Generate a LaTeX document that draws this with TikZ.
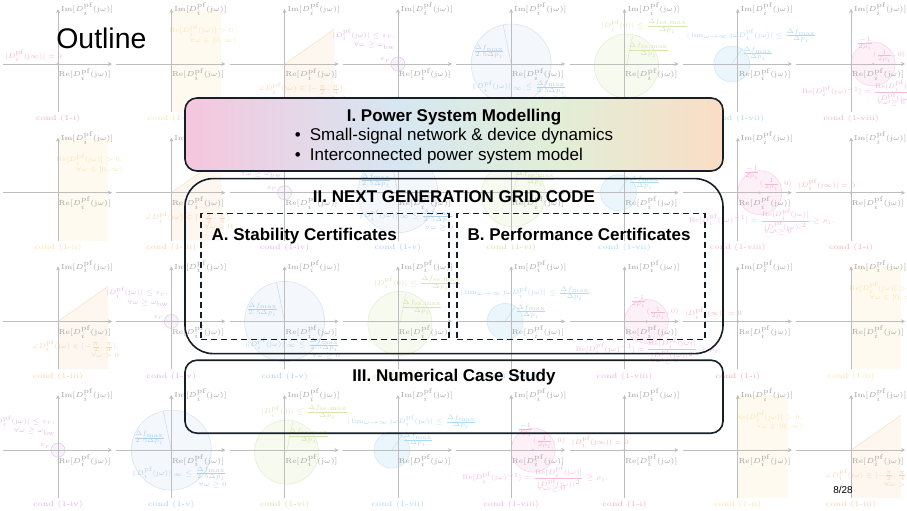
\documentclass[tikz,border=0pt]{standalone}
\usepackage{amsmath,amssymb}
\usepackage{fontspec}
\setsansfont{Liberation Sans}
\usepackage{tikz}
\usetikzlibrary{positioning,arrows.meta}
\usepackage{xcolor}

\definecolor{cred}{RGB}{232,72,85}
\definecolor{cyel}{RGB}{240,190,50}
\definecolor{corg}{RGB}{240,150,60}
\definecolor{cpur}{RGB}{170,90,190}
\definecolor{cblu}{RGB}{70,140,210}
\definecolor{cgrn}{RGB}{150,190,60}
\definecolor{ccya}{RGB}{60,170,225}
\definecolor{cpnk}{RGB}{230,80,160}
\definecolor{frameln}{RGB}{22,30,40}
\definecolor{modpink}{RGB}{245,198,222}
\definecolor{modblue}{RGB}{214,231,241}
\definecolor{modgreen}{RGB}{226,238,214}
\definecolor{modpeach}{RGB}{250,221,198}
\pgfdeclarehorizontalshading{modshade}{100bp}{color(0bp)=(modpink); color(25bp)=(modpink); color(45bp)=(modblue); color(60bp)=(modgreen); color(75bp)=(modpeach); color(100bp)=(modpeach)}

\newcommand{\Dpf}{D_i^{\mathrm{pf}}}
\newcommand{\jom}{\mathrm{j}\omega}
\newcommand{\bul}{\makebox[7.5pt][l]{\textbullet}}

\tikzset{
  axisln/.style={draw=black!26, line width=0.4pt, -{Stealth[length=2pt,width=2pt]}},
  axlbl/.style={font=\fontsize{5}{6}\selectfont, text=black!36, inner sep=0.5pt, scale=0.72, transform shape},
  plbl/.style={font=\fontsize{5}{6}\selectfont, text=#1!42, inner sep=0.5pt, align=right, scale=0.65, transform shape},
  condlbl/.style={font=\fontsize{5}{6}\selectfont, text=#1!45, inner sep=0.5pt, scale=0.75, transform shape},
  shapeln/.style={line width=0.3pt},
  cellaxes/.pic={
    \draw[axisln] (-55,0) -- (54,0);
    \draw[axisln] (0,48) -- (0,-55);
    \node[axlbl, anchor=west] (-im) at (2,-55) {$\mathrm{Im}[\Dpf(\jom)]$};
    \node[axlbl, anchor=north east] (-re) at (54,3) {$\mathrm{Re}[\Dpf(\jom)]$};
  },
  % cond (1-i)
  cond0/.pic={
    \fill[cred!40] (0,0) circle (0.8pt);
    \node[plbl=cred, anchor=east] (-txt) at (5,-8) {$|\Dpf(\mathrm{j}\infty)|=0$};
    \node[condlbl=cred] (-cond) at (0,55) {cond (1-i)};
  },
  % cond (1-ii)
  cond1/.pic={
    \fill[cyel!8] (0,-55) rectangle (50,48);
    \node[plbl=cyel, anchor=north east] (-txt) at (66,-40) {$\mathrm{Re}[\Dpf(\jom)]>0,$\\$\forall\omega\in[0,\infty)$};
    \node[condlbl=cyel] (-cond) at (0,55) {cond (1-ii)};
  },
  % cond (1-iii)
  cond2/.pic={
    \fill[corg!8] (0,0) -- (50,-35) -- (50,48) -- (0,48) -- cycle;
    \draw[corg!28, shapeln] (0,0) -- (50,-35);
    \node[plbl=corg, anchor=north east] (-txt) at (62,18) {$\angle\Dpf(\jom)\in[-\frac{\pi}{2},\frac{\pi}{4}],$\\$\forall\omega>0$};
    \node[condlbl=corg] (-cond) at (0,55) {cond (1-iii)};
  },
  % cond (1-iv)
  cond3/.pic={
    \filldraw[fill=cpur!8, draw=cpur!30, shapeln] (0,0) circle (3.5pt);
    \draw[cpur!30, shapeln] (-9,0) -- (9,0) (0,-9) -- (0,9);
    \node[plbl=cpur, anchor=east] (-eps) at (-7,-4) {$\varepsilon_r$};
    \node[plbl=cpur, anchor=south east] (-txt) at (-2,-14) {$|\Dpf(\jom)|\le\varepsilon_r,$\\$\forall\omega\ge\omega_{\mathrm{bw}}$};
    \node[condlbl=cpur] (-cond) at (0,55) {cond (1-iv)};
  },
  % cond (1-v)
  cond4/.pic={
    \filldraw[fill=cblu!6, draw=cblu!22, shapeln] (0,0) circle (20pt);
    \draw[cblu!28, shapeln] (0,0) -- (-8,-39);
    \node[plbl=cblu] (-rad) at (-22,-12) {$\frac{\Delta f_{\max}}{2.5\Delta p_i}$};
    \node[plbl=cblu, anchor=north] (-txt) at (8,16) {$\|\Dpf(\jom)\|_\infty\le\frac{\Delta f_{\max}}{2.5\Delta p_i}$\\$\forall\omega\ge0$};
    \node[condlbl=cblu] (-cond) at (0,55) {cond (1-v)};
  },
  % cond (1-vi)
  cond5/.pic={
    \filldraw[fill=cgrn!8, draw=cgrn!24, shapeln] (2,2) circle (16pt);
    \draw[cgrn!28, shapeln] (2,2) -- (8,-28);
    \node[plbl=cgrn] (-rad) at (24,-14) {$\frac{\Delta f_{\mathrm{ss,max}}}{\Delta p_i}$};
    \node[plbl=cgrn] (-txt) at (20,-38) {$|\Dpf(0)|\le\frac{\Delta f_{\mathrm{ss,max}}}{\Delta p_i}$};
    \node[condlbl=cgrn] (-cond) at (0,55) {cond (1-vi)};
  },
  % cond (1-vii)
  cond6/.pic={
    \filldraw[fill=ccya!10, draw=ccya!24, shapeln] (-6,0) circle (9pt);
    \draw[ccya!28, shapeln] (-6,0) -- (4,-15);
    \node[plbl=ccya] (-rad) at (20,-10) {$\frac{\Delta f_{\max}}{\Delta p_i}$};
    \node[plbl=ccya] (-txt) at (14,-28) {$|\lim_{\omega\to\infty}\mathrm{j}\omega\Dpf(\jom)|\le\frac{\Delta f_{\max}}{\Delta p_i}$};
    \node[condlbl=ccya] (-cond) at (0,55) {cond (1-vii)};
  },
  % cond (1-viii)
  cond7/.pic={
    \filldraw[fill=cpnk!8, draw=cpnk!24, shapeln] (22,0) circle (11pt);
    \fill[cpnk!40] (22,0) circle (0.7pt);
    \node[plbl=cpnk] (-ctr) at (38,-8) {$(\frac{1}{2\rho_i},0)$};
    \node[plbl=cpnk] (-top) at (14,-20) {$\frac{-1}{2\rho_i}$};
    \node[plbl=cpnk] (-txt) at (24,28) {$\mathrm{Re}[\Dpf(\jom)^{-1}]=\frac{\mathrm{Re}[\Dpf(\jom)]}{|\Dpf(\jom)|^2}\ge\rho_i,$};
    \node[plbl=cpnk] (-all) at (40,39) {$\forall\omega\ge0$};
    \node[condlbl=cpnk] (-cond) at (0,55) {cond (1-viii)};
  }
}

\begin{document}
\begin{tikzpicture}[x=0.5pt, y=-0.5pt, node distance=3pt,
    secbox/.style={draw=frameln, line width=0.8pt, rounded corners=6pt, minimum width=269pt, inner sep=0pt},
    certbox/.style={draw=frameln, line width=0.8pt, dash pattern=on 3pt off 2pt, minimum width=124pt, minimum height=63pt, inner sep=0pt},
    boxtext/.style={font=\sffamily\fontsize{8.5}{9.85}\selectfont, align=center, inner sep=0pt},
    headtext/.style={font=\sffamily\bfseries\fontsize{8.5}{9.85}\selectfont, inner sep=0pt}]
\useasboundingbox (0,0) rectangle (907,510);
\clip (0,0) rectangle (907,510);
% faint background plots
\foreach \c in {0,...,7} {
  \foreach \r in {0,...,3} {
    \pgfmathtruncatemacro\k{mod(\c+\r,8)}
    \pgfmathsetmacro\px{58+113.3*\c}
    \pgfmathsetmacro\py{64+128.7*\r}
    \pic (pl\r\c) at (\px,\py) {cond\k};
    \pic (ax\r\c) at (\px,\py) {cellaxes};
  }
}
\node[font=\sffamily\fontsize{14.2}{17}\selectfont, anchor=base west, inner sep=0pt] (title) at (56,48) {Outline};
% sections
\node[secbox, shade, shading=modshade, minimum height=36.5pt] (model) at (454,134.5) {};
\node[secbox, rounded corners=14pt, minimum height=87.5pt, below=3pt of model] (grid) {};
\node[secbox, minimum height=36.5pt, below=2.5pt of grid] (case) {};
\node[boxtext, below=5.6pt of model.north] (modtext) {\textbf{I. Power System Modelling}\\
  \begin{tabular}[t]{@{}l@{}}\bul Small-signal network \& device dynamics\\ \bul Interconnected power system model\end{tabular}};
\node[headtext, below=6.1pt of grid.north] (gridhead) {II. NEXT GENERATION GRID CODE};
\node[certbox, xshift=-64.5pt, yshift=-5.25pt] (stab) at (grid) {};
\node[certbox, xshift=63.5pt, yshift=-5.25pt] (perf) at (grid) {};
\node[headtext, below right=7.3pt and 5.5pt of stab.north west] (stabhead) {A. Stability Certificates};
\node[headtext, below right=7.3pt and 5.5pt of perf.north west] (perfhead) {B. Performance Certificates};
\node[headtext, below=4.6pt of case.north] (casehead) {III. Numerical Case Study};
\node[font=\sffamily\fontsize{5}{6}\selectfont, inner sep=0pt] (pageno) at (843,490) {8/28};
\end{tikzpicture}
\end{document}
